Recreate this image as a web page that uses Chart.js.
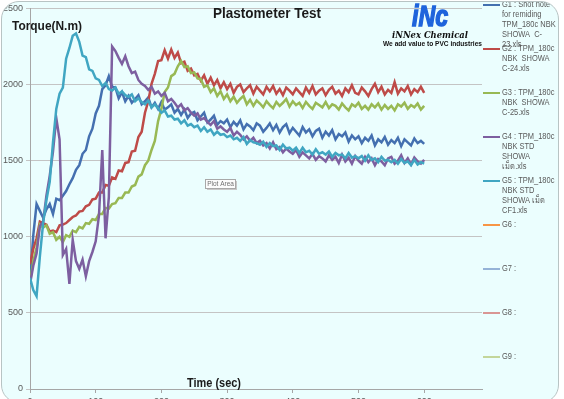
<!DOCTYPE html>
<html>
<head>
<meta charset="utf-8">
<title>Plastometer Test</title>
<script src="https://cdn.jsdelivr.net/npm/chart.js@4.4.0/dist/chart.umd.min.js"></script>
<style>
html, body { margin: 0; padding: 0; background: #fff; overflow: hidden; }
#frame {
    position: absolute; left: 1px; top: 1px; width: 556px; height: 400px;
    border: 1px solid #b8c4c4; border-radius: 18px; background: #ebfefe; overflow: hidden;
}
#wrap { position: absolute; left: -2px; top: -2px; width: 564px; height: 399px; }
</style>
</head>
<body>
<div id="frame">
    <div id="wrap"><canvas id="chart"></canvas></div>
</div>
<script>
// time axis (sec), one sample every 5 s
const timeSec = [
    0, 5, 10, 15, 20, 25, 30, 35, 40, 45,
    50, 55, 60, 65, 70, 75, 80, 85, 90, 95,
    100, 105, 110, 115, 120, 125, 130, 135, 140, 145,
    150, 155, 160, 165, 170, 175, 180, 185, 190, 195,
    200, 205, 210, 215, 220, 225, 230, 235, 240, 245,
    250, 255, 260, 265, 270, 275, 280, 285, 290, 295,
    300, 305, 310, 315, 320, 325, 330, 335, 340, 345,
    350, 355, 360, 365, 370, 375, 380, 385, 390, 395,
    400, 405, 410, 415, 420, 425, 430, 435, 440, 445,
    450, 455, 460, 465, 470, 475, 480, 485, 490, 495,
    500, 505, 510, 515, 520, 525, 530, 535, 540, 545,
    550, 555, 560, 565, 570, 575, 580, 585, 590, 595,
    600
];

// torque (N.m)
const g1 = [
    710, 1010, 1215, 1170, 1125, 1180, 1215, 1150, 1250, 1240,
    1270, 1300, 1345, 1385, 1440, 1470, 1545, 1570, 1660, 1710,
    1810, 1860, 1970, 1995, 2055, 1985, 1980, 1910, 1950, 1890,
    1925, 1880, 1905, 1930, 1870, 1890, 1915, 1850, 1880, 1840,
    1885, 1835, 1850, 1870, 1815, 1840, 1800, 1835, 1780, 1810,
    1820, 1765, 1790, 1815, 1750, 1770, 1795, 1735, 1760, 1745,
    1770, 1720, 1755, 1730, 1765, 1705, 1740, 1725, 1700, 1745,
    1730, 1690, 1715, 1745, 1700, 1735, 1685, 1720, 1740, 1680,
    1715, 1690, 1665, 1720, 1685, 1705, 1660, 1695, 1710, 1650,
    1690, 1665, 1700, 1640, 1675, 1660, 1685, 1625, 1665, 1640,
    1660, 1615, 1650, 1630, 1665, 1600, 1640, 1620, 1655, 1605,
    1635, 1615, 1650, 1595, 1640, 1620, 1600, 1645, 1615, 1630,
    1610
];
const g2 = [
    820, 920, 990, 1100, 1090, 1080, 1035, 1040, 1030, 1075,
    1080, 1090, 1110, 1130, 1140, 1165, 1170, 1200, 1210, 1245,
    1250, 1290, 1290, 1340, 1335, 1390, 1380, 1435, 1430, 1485,
    1490, 1560, 1565, 1655, 1690, 1815, 1890, 2005, 2070, 2155,
    2160, 2225, 2170, 2230, 2175, 2210, 2140, 2150, 2090, 2105,
    2060, 2070, 2025, 2060, 2005, 2045, 1995, 2030, 1975, 2015,
    1970, 2005, 1945, 1985, 2000, 1950, 1975, 1995, 1940, 1985,
    1960, 1935, 1985, 1955, 1990, 1940, 1970, 1930, 1980, 1960,
    1935, 1975, 1950, 1925, 1980, 1945, 1990, 1935, 1960, 1975,
    1930, 1965, 1985, 1940, 1960, 1925, 1975, 1950, 1995, 1945,
    1935, 1980, 1955, 1925, 1970, 2005, 1950, 1985, 1935, 1965,
    1945, 2015, 1940, 1975, 1955, 1990, 1935, 1970, 1950, 1985,
    1945
];
const g3 = [
    700, 840, 930, 1080, 1060, 1075, 1020, 1030, 980, 1000,
    965, 1010, 1000, 1040, 1030, 1065, 1055, 1090, 1085, 1115,
    1110, 1150, 1150, 1190, 1185, 1215, 1220, 1255, 1255, 1290,
    1290, 1330, 1340, 1395, 1410, 1470, 1500, 1570, 1630, 1760,
    1840, 1950, 1980, 2055, 2070, 2120, 2155, 2115, 2120, 2075,
    2080, 2040, 2035, 1985, 1995, 1950, 1975, 1925, 1955, 1905,
    1935, 1890, 1920, 1880, 1905, 1925, 1870, 1900, 1860, 1895,
    1875, 1850, 1890, 1865, 1845, 1885, 1860, 1880, 1905, 1855,
    1890, 1865, 1880, 1845, 1885, 1860, 1840, 1880, 1865, 1850,
    1885, 1845, 1870, 1860, 1835, 1875, 1850, 1830, 1870, 1855,
    1880, 1840, 1860, 1835, 1870, 1850, 1875, 1835, 1865, 1840,
    1860, 1830, 1870, 1855, 1880, 1840, 1865, 1850, 1875, 1835,
    1860
];
const g4 = [
    690, 810, 890, 1070, 1100, 1270, 1400, 1560, 1780, 1640,
    880, 920, 690, 980, 840, 790, 850, 740, 840, 900,
    970, 1140, 1570, 990, 1260, 2250, 2220, 2175, 2135, 2185,
    2120, 2075, 2085, 2030, 2005, 1990, 1965, 1985, 1940, 1955,
    1925, 1945, 1890, 1905, 1880, 1850, 1870, 1830, 1845, 1815,
    1795, 1810, 1770, 1780, 1755, 1735, 1760, 1710, 1725, 1705,
    1690, 1715, 1665, 1690, 1670, 1640, 1660, 1630, 1650, 1615,
    1630, 1600, 1615, 1580, 1620, 1575, 1590, 1555, 1580, 1560,
    1545, 1570, 1525, 1555, 1535, 1515, 1545, 1505, 1530, 1515,
    1495, 1535, 1505, 1525, 1485, 1540, 1495, 1520, 1480, 1530,
    1500, 1480, 1525, 1490, 1515, 1470, 1510, 1495, 1470, 1515,
    1525, 1480, 1500, 1535, 1485, 1515, 1475, 1520, 1495, 1480,
    1505
];
const g5 = [
    730, 650, 610, 870, 1090, 1240, 1360, 1620, 1840, 1940,
    1980, 2170, 2240, 2320, 2335, 2280, 2190, 2180, 2100, 2090,
    2040, 2030, 1990, 2010, 1970, 1960, 1980, 1940, 1955, 1930,
    1920, 1935, 1890, 1910, 1885, 1870, 1895, 1850, 1870, 1845,
    1815, 1830, 1790, 1795, 1770, 1775, 1745, 1765, 1730, 1740,
    1720, 1730, 1695, 1720, 1690, 1705, 1670, 1690, 1670, 1675,
    1655, 1665, 1640, 1650, 1630, 1655, 1610, 1635, 1620, 1615,
    1605, 1625, 1590, 1615, 1595, 1600, 1570, 1605, 1580, 1585,
    1565, 1585, 1550, 1585, 1555, 1565, 1540, 1575, 1545, 1555,
    1540, 1560, 1525, 1550, 1535, 1540, 1515, 1550, 1520, 1530,
    1515, 1530, 1500, 1535, 1505, 1515, 1490, 1525, 1500, 1505,
    1490, 1505, 1480, 1510, 1485, 1495, 1470, 1505, 1475, 1490,
    1480
];

const xTicks = [0, 100, 200, 300, 400, 500, 600];
const yTicks = [0, 500, 1000, 1500, 2000, 2500];

// legend text, already wrapped the way the sheet shows it
const legendLines = [
    ['G1 : Shot note', 'for remiding', 'TPM_180c NBK', 'SHOWA  C-', '23.xls'],
    ['G2 : TPM_180c', 'NBK  SHOWA', 'C-24.xls'],
    ['G3 : TPM_180c', 'NBK  SHOWA', 'C-25.xls'],
    ['G4 : TPM_180c', 'NBK STD', 'SHOWA', 'เม็ด.xls'],
    ['G5 : TPM_180c', 'NBK STD', 'SHOWA เม็ด', 'CF1.xls'],
    ['G6 :'],
    ['G7 :'],
    ['G8 :'],
    ['G9 :']
];
const seriesColors = ['#4470b0', '#be4b48', '#98b954', '#7d5fa0', '#40a6c2',
                      '#f79646', '#95b3d7', '#d99694', '#c3d69b'];
const seriesData = [g1, g2, g3, g4, g5];

Chart.defaults.font.family = '"Liberation Sans", Arial, sans-serif';

// draws text squeezed/stretched to a given width (left edge at x)
function fitText(ctx, text, x, y, width, font, color, heavy) {
    ctx.save();
    ctx.font = font;
    ctx.fillStyle = color;
    ctx.textAlign = 'left';
    ctx.textBaseline = 'alphabetic';
    const w = ctx.measureText(text).width;
    ctx.translate(x, y);
    ctx.scale(width / w, 1);
    ctx.fillText(text, 0, 0);
    if (heavy) {
        ctx.strokeStyle = color;
        ctx.lineWidth = heavy;
        ctx.strokeText(text, 0, 0);
    }
    ctx.restore();
}

const decorPlugin = {
    id: 'decor',
    afterDraw(chart) {
        const ctx = chart.ctx;

        fitText(ctx, 'Plastometer Test', 213, 18, 108, 'bold 14px "Liberation Sans"', '#1a1a1a');
        fitText(ctx, 'Torque(N.m)', 12, 30, 70, 'bold 12px "Liberation Sans"', '#1a1a1a');
        fitText(ctx, 'Time (sec)', 187, 387, 54, 'bold 12px "Liberation Sans"', '#1a1a1a');

        // logo
        fitText(ctx, 'iNc', 412, 26, 36, 'bold italic 30px "Liberation Sans"', '#1e64dc', 1.5);
        fitText(ctx, 'iNNex Chemical', 392, 38, 76, 'bold italic 10px "DejaVu Serif"', '#111');
        fitText(ctx, 'We add value to PVC industries', 383, 46, 99, 'bold 7px "Liberation Sans"', '#111');

        // "Plot Area" hint box
        ctx.save();
        ctx.fillStyle = '#c8c8c8';
        ctx.fillRect(207, 181, 30, 9);
        ctx.fillStyle = '#fcfcfc';
        ctx.fillRect(205.5, 179.5, 30, 9);
        ctx.strokeStyle = '#a8a8a8';
        ctx.lineWidth = 1;
        ctx.strokeRect(205.5, 179.5, 30, 9);
        ctx.fillStyle = '#707070';
        ctx.font = '6.5px "Liberation Sans"';
        ctx.textAlign = 'center';
        ctx.textBaseline = 'middle';
        ctx.fillText('Plot Area', 220.5, 184.5);
        ctx.restore();

        // legend
        ctx.save();
        legendLines.forEach((lines, i) => {
            const y = 5 + 44 * i;
            ctx.strokeStyle = seriesColors[i];
            ctx.lineWidth = 2;
            ctx.beginPath();
            ctx.moveTo(483, y);
            ctx.lineTo(500, y);
            ctx.stroke();
            ctx.fillStyle = '#595959';
            ctx.font = '8.5px "Liberation Sans"';
            ctx.textAlign = 'left';
            ctx.textBaseline = 'middle';
            lines.forEach((t, k) => {
                ctx.save();
                ctx.translate(502, y + 10 * k);
                ctx.scale(0.88, 1);
                ctx.fillText(t, 0, 0);
                ctx.restore();
            });
        });
        ctx.restore();
    }
};

new Chart(document.getElementById('chart'), {
    type: 'line',
    data: {
        datasets: seriesData.map((vals, i) => ({
            label: legendLines[i].join(' '),
            data: vals.map((v, k) => ({ x: timeSec[k], y: v })),
            borderColor: seriesColors[i],
            borderWidth: 2.5,
            pointRadius: 0,
            tension: 0,
            order: 5 - i
        }))
    },
    options: {
        responsive: true,
        maintainAspectRatio: false,
        animation: false,
        layout: { padding: { left: 0, right: 82, top: 6, bottom: 0 } },
        plugins: {
            legend: { display: false },
            tooltip: { enabled: false }
        },
        scales: {
            x: {
                type: 'linear',
                min: 0,
                max: 688,
                afterBuildTicks: s => { s.ticks = xTicks.map(v => ({ value: v })); },
                afterFit: s => { s.height = 10; },
                grid: { drawOnChartArea: false, tickLength: 4, color: '#a6a6a6' },
                border: { color: '#a6a6a6' },
                ticks: { font: { size: 9 }, color: '#595959', padding: 3, maxRotation: 0, autoSkip: false,
                         callback: v => String(v) }
            },
            y: {
                min: 0,
                max: 2500,
                afterBuildTicks: s => { s.ticks = yTicks.map(v => ({ value: v })); },
                afterFit: s => { s.width = 30; },
                grid: { color: '#c4c4c4', tickLength: 4 },
                border: { color: '#a6a6a6' },
                ticks: { font: { size: 9 }, color: '#595959', padding: 3, callback: v => String(v) }
            }
        }
    },
    plugins: [decorPlugin]
});
</script>
</body>
</html>
